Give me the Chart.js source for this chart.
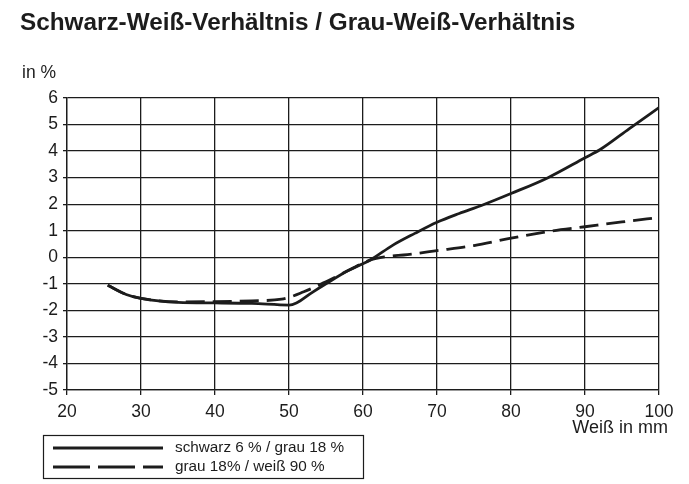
<!DOCTYPE html>
<html>
<head>
<meta charset="utf-8">
<script src="https://cdn.jsdelivr.net/npm/chart.js@4.4.0/dist/chart.umd.min.js"></script>
<style>
  html, body { margin: 0; padding: 0; background: #fff; }
  #wrap { position: relative; width: 689px; height: 484px; }
</style>
</head>
<body>
<div id="wrap"><canvas id="chart" width="689" height="484"></canvas></div>
<script>
// Werte
const titleText = "Schwarz-Weiß-Verhältnis / Grau-Weiß-Verhältnis";
const yAxisLabel = "in %";
const xAxisLabel = "Weiß in mm";
const seriesNames = ["schwarz 6 % / grau 18 %", "grau 18% / weiß 90 %"];

const xTicks = [20, 30, 40, 50, 60, 70, 80, 90, 100];
const yTicks = [6, 5, 4, 3, 2, 1, 0, -1, -2, -3, -4, -5];

const schwarzX = [25.5, 28, 30, 35, 40, 45, 50, 51, 53, 55, 58, 61, 64, 67, 70, 73, 76, 80, 85, 90, 92, 96, 100];
const schwarzY = [-1.05, -1.4, -1.55, -1.7, -1.72, -1.74, -1.8, -1.72, -1.35, -1.0, -0.5, -0.1, 0.45, 0.9, 1.32, 1.65, 1.95, 2.4, 3.0, 3.75, 4.05, 4.85, 5.64];

const grauX = [25.5, 28, 30, 35, 40, 45, 49, 52, 55, 58, 61, 63, 66, 70, 75, 80, 85, 90, 95, 100];
const grauY = [-1.05, -1.4, -1.55, -1.68, -1.67, -1.64, -1.58, -1.3, -0.92, -0.5, -0.1, 0.02, 0.1, 0.25, 0.44, 0.72, 0.97, 1.15, 1.33, 1.5];

const ink = "#1c1c1c";
const font = "'Liberation Sans', Arial, sans-serif";

function toPoints(xs, ys) {
    return xs.map((x, i) => ({ x: x, y: ys[i] }));
}

// Titel, Achsenbeschriftungen und Legendenkasten
const extras = {
    id: "extras",
    afterDraw(chart) {
        const ctx = chart.ctx;
        ctx.save();
        ctx.fillStyle = ink;
        ctx.textBaseline = "middle";

        ctx.font = "bold 24.3px " + font;
        ctx.textAlign = "left";
        ctx.fillText(titleText, 20, 23);

        ctx.font = "17.5px " + font;
        ctx.fillText(yAxisLabel, 22, 73);
        ctx.font = "18px " + font;
        ctx.textAlign = "right";
        ctx.fillText(xAxisLabel, 668, 428);

        // Legende
        ctx.strokeStyle = ink;
        ctx.lineWidth = 1.2;
        ctx.strokeRect(43.5, 435.5, 320, 43);

        const rows = [448, 467];
        chart.data.datasets.forEach((ds, i) => {
            ctx.beginPath();
            ctx.lineWidth = 2.8;
            ctx.setLineDash(ds.borderDash && ds.borderDash.length ? [37, 8] : []);
            ctx.moveTo(53, rows[i]);
            ctx.lineTo(163, rows[i]);
            ctx.stroke();
            ctx.setLineDash([]);
            ctx.font = "15.3px " + font;
            ctx.textAlign = "left";
            ctx.fillText(seriesNames[i], 175, rows[i]);
        });
        ctx.restore();
    }
};

new Chart(document.getElementById("chart"), {
    type: "line",
    data: {
        datasets: [
            {
                label: seriesNames[0],
                data: toPoints(schwarzX, schwarzY),
                borderColor: ink,
                borderWidth: 2.8,
                pointRadius: 0,
                cubicInterpolationMode: "monotone",
                fill: false,
            },
            {
                label: seriesNames[1],
                data: toPoints(grauX, grauY),
                borderColor: ink,
                borderWidth: 2.8,
                borderDash: [19, 8],
                pointRadius: 0,
                cubicInterpolationMode: "monotone",
                fill: false,
            },
        ]
    },
    options: {
        responsive: false,
        animation: false,
        layout: { padding: { top: 98, right: 30, left: 0, bottom: 0 } },
        plugins: {
            legend: { display: false },
            title: { display: false },
            tooltip: { enabled: false },
        },
        scales: {
            x: {
                type: "linear",
                min: 20,
                max: 100,
                afterBuildTicks: (scale) => { scale.ticks = xTicks.map(v => ({ value: v })); },
                afterFit: (scale) => { scale.height = 94; },
                grid: { color: ink, lineWidth: 1.3, tickLength: 5, drawTicks: true },
                border: { color: ink, width: 1.3 },
                ticks: { color: ink, font: { family: font, size: 17.5 }, padding: 7, maxRotation: 0 },
            },
            y: {
                type: "linear",
                min: -5,
                max: 6,
                afterBuildTicks: (scale) => { scale.ticks = yTicks.map(v => ({ value: v })); },
                afterFit: (scale) => { scale.width = 67; },
                grid: { color: ink, lineWidth: 1.3, tickLength: 4 },
                border: { color: ink, width: 1.3 },
                ticks: { color: ink, font: { family: font, size: 17.5 }, padding: 5 },
            }
        }
    },
    plugins: [extras]
});
</script>
</body>
</html>
